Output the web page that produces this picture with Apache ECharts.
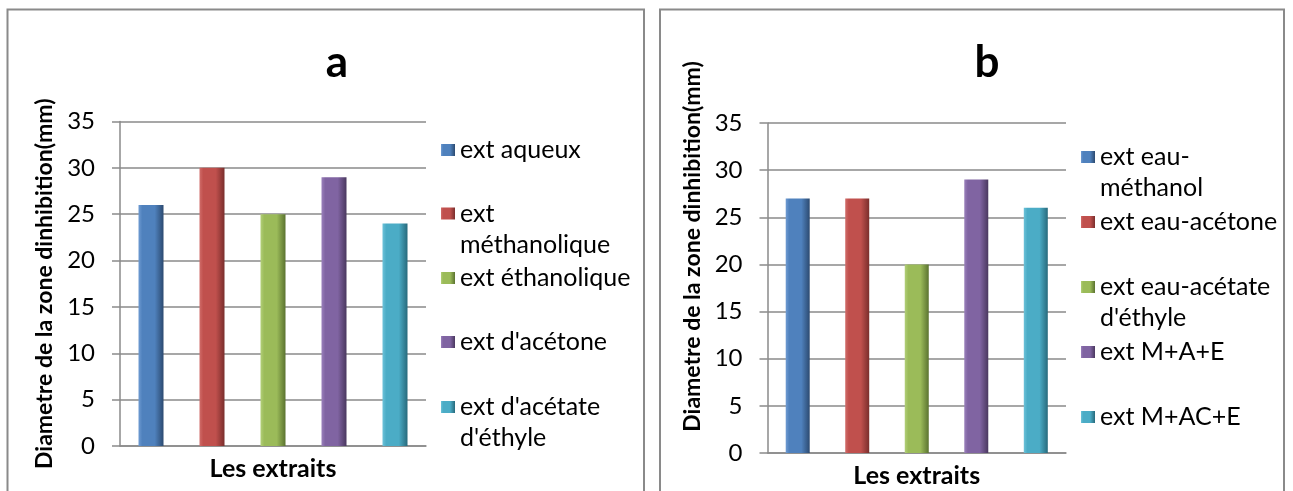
<!DOCTYPE html>
<html>
<head>
<meta charset="utf-8">
<title>Diametre de la zone d'inhibition</title>
<script src="https://cdn.jsdelivr.net/npm/echarts@6/dist/echarts.min.js"></script>
<style>
  html, body { margin: 0; padding: 0; background: #fff; }
  #main { width: 1293px; height: 491px; }
</style>
</head>
<body>
<div id="main"></div>
<script type="text/javascript">
    // données
    var namesA = ['ext aqueux', 'ext méthanolique', 'ext éthanolique', "ext d'acétone", "ext d'acétate d'éthyle"];
    var valuesA = [26, 30, 25, 29, 24];
    var namesB = ['ext eau-méthanol', 'ext eau-acétone', "ext eau-acétate d'éthyle", 'ext M+A+E', 'ext M+AC+E'];
    var valuesB = [27, 27, 20, 29, 26];
    var category = ['Les extraits'];
    var yName = 'Diametre de la zone dinhibition(mm)';

    // style
    var colors = [
        ['#6f9bd2', '#4f81bd', '#2c4a70'],
        ['#d06c69', '#c0504d', '#7a2e2c'],
        ['#b2cf78', '#9bbb59', '#5b7330'],
        ['#9a80bb', '#8064a2', '#4a385f'],
        ['#6cc2d9', '#4bacc6', '#276a7c']
    ];
    // retour à la ligne comme dans la légende Excel (ligne vide devant pour aligner la 1re ligne sur le carré)
    var wrapped = {
        'ext méthanolique': '\next\nméthanolique',
        "ext d'acétate d'éthyle": "\next d'acétate\nd'éthyle",
        'ext eau-méthanol': '\next eau-\nméthanol',
        "ext eau-acétate d'éthyle": "\next eau-acétate\nd'éthyle"
    };
    var FONT = 'Lato';
    var LH = 31;
    var axisGray = '#8a8a8a';

    function barColor(c) {
        return new echarts.graphic.LinearGradient(0, 0, 1, 0, [
            {offset: 0, color: c[0]},
            {offset: 0.15, color: c[1]},
            {offset: 0.65, color: c[1]},
            {offset: 1, color: c[2]}
        ]);
    }

    var panels = [
        {names: namesA, values: valuesA, title: 'a', titleX: 332,
            grid: {left: 120, top: 121.5, width: 306, height: 324.5},
            barWidth: 25, barGap: '144%', nameGap: 64, namePad: 0,
            legendX: 441, legendY: [150, 213.5, 278, 342, 407]},
        {names: namesB, values: valuesB, title: 'b', titleX: 982,
            grid: {left: 767.5, top: 123, width: 298.5, height: 330},
            barWidth: 24, barGap: '148%', nameGap: 63, namePad: 83,
            legendX: 1081, legendY: [157, 222, 287, 352, 417]}
    ];

    var option = {
        backgroundColor: '#fff',
        animation: false,
        title: [],
        grid: [],
        xAxis: [],
        yAxis: [],
        legend: [],
        series: [],
        graphic: [
            {type: 'rect', shape: {x: 7.5, y: 9.5, width: 636.5, height: 500}, style: {fill: 'none', stroke: axisGray, lineWidth: 2}},
            {type: 'rect', shape: {x: 660, y: 9.5, width: 624, height: 500}, style: {fill: 'none', stroke: axisGray, lineWidth: 2}}
        ]
    };

    panels.forEach(function (p, k) {
        option.title.push({
            text: p.title, left: p.titleX, top: 36, textAlign: 'center',
            textStyle: {fontFamily: FONT, fontSize: 44, fontWeight: 'bold', color: '#000'}
        });
        option.grid.push({
            left: p.grid.left, top: p.grid.top, width: p.grid.width, height: p.grid.height,
            outerBoundsMode: 'none'
        });
        option.xAxis.push({
            type: 'category', gridIndex: k, data: category,
            name: 'Les extraits', nameLocation: 'middle', nameGap: 10,
            nameTextStyle: {fontFamily: FONT, fontSize: 25, fontWeight: 'bold', color: '#000', verticalAlign: 'top'},
            axisLine: {lineStyle: {color: axisGray, width: 1.5}},
            axisTick: {show: false},
            axisLabel: {show: false}
        });
        option.yAxis.push({
            type: 'value', gridIndex: k, min: 0, max: 35, interval: 5,
            name: yName, nameLocation: 'middle', nameRotate: 90, nameGap: p.nameGap,
            nameTextStyle: {fontFamily: FONT, fontSize: 23, fontWeight: 'bold', color: '#000',
                padding: [0, 0, 0, p.namePad]},
            axisLine: {show: true, lineStyle: {color: axisGray, width: 1.5}},
            axisTick: {show: true, length: 8, lineStyle: {color: axisGray, width: 1.5}},
            axisLabel: {fontFamily: FONT, fontSize: 24, color: '#000', margin: 25},
            splitLine: {lineStyle: {color: axisGray, width: 1.5}}
        });
        p.names.forEach(function (n, i) {
            option.series.push({
                type: 'bar', name: n, xAxisIndex: k, yAxisIndex: k,
                data: [p.values[i]],
                barWidth: p.barWidth, barGap: p.barGap,
                itemStyle: {color: barColor(colors[i])}
            });
            var two = !!wrapped[n];
            option.legend.push({
                data: [n], orient: 'vertical', left: p.legendX,
                top: p.legendY[i] - (two ? 1.5 * LH : 0.5 * LH),
                padding: 0, itemWidth: 14, itemHeight: 12, itemGap: 0,
                icon: 'rect',
                formatter: function (name) { return wrapped[name] || name; },
                textStyle: {fontFamily: FONT, fontSize: 25, color: '#000', lineHeight: LH}
            });
        });
    });

    var myChart = echarts.init(document.getElementById('main'));
    myChart.setOption(option);
</script>
</body>
</html>
